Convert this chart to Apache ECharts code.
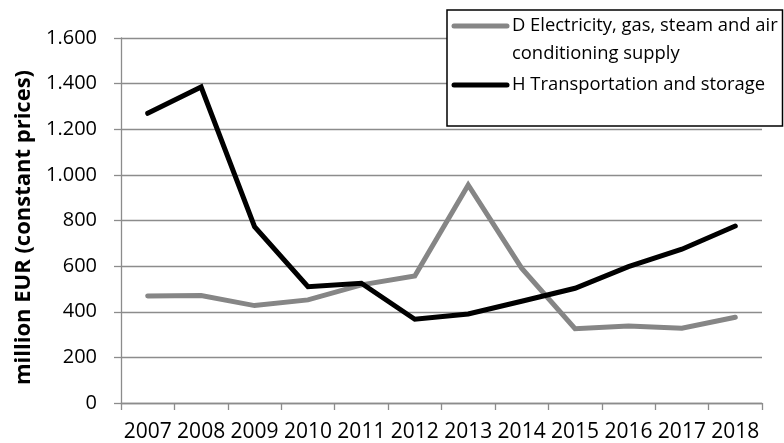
<!DOCTYPE html>
<html>
<head>
<meta charset="utf-8">
<script src="https://cdn.jsdelivr.net/npm/echarts@6/dist/echarts.min.js"></script>
<style>
  html, body { margin: 0; padding: 0; background: #fff; }
  #chart { width: 784px; height: 443px; }
</style>
</head>
<body>
<div id="chart"></div>
<script>
// Gross fixed capital formation by industry, million EUR (constant prices)
const years = ['2007', '2008', '2009', '2010', '2011', '2012', '2013', '2014', '2015', '2016', '2017', '2018'];
const nameD = 'D Electricity, gas, steam and air conditioning supply';
const nameH = 'H Transportation and storage';
const valuesD = [469, 471, 427, 452, 518, 557, 956, 591, 326, 337, 328, 376];
const valuesH = [1270, 1385, 773, 510, 525, 367, 390, 446, 503, 598, 674, 776];
const yTicks = { min: 0, max: 1600, step: 200 };

const colorD = '#868686';
const colorH = '#000000';
const gridColor = '#8c8c8c';
const fontFamily = '"Open Sans", "Liberation Sans", sans-serif';

function thousandDots(v) {
  return String(v).replace(/\B(?=(\d{3})+(?!\d))/g, '.');
}

const chart = echarts.init(document.getElementById('chart'), null, { renderer: 'canvas' });

chart.setOption({
  animation: false,
  backgroundColor: '#ffffff',
  grid: { left: 121, right: 22, top: 38, bottom: 40, containLabel: false },
  xAxis: {
    type: 'category',
    data: years,
    boundaryGap: true,
    axisLine: { lineStyle: { color: gridColor, width: 1.3 } },
    axisTick: { show: true, length: 7, lineStyle: { color: gridColor, width: 1.3 } },
    axisLabel: { color: '#000', fontFamily: fontFamily, fontSize: 21, margin: 19, interval: 0 }
  },
  yAxis: {
    type: 'value',
    min: yTicks.min,
    max: yTicks.max,
    interval: yTicks.step,
    name: 'million EUR (constant prices)',
    nameLocation: 'middle',
    nameGap: 86,
    nameTextStyle: {
      color: '#000', fontFamily: fontFamily, fontSize: 22, fontWeight: 'bold',
      padding: [0, 14, 0, 0]
    },
    axisLine: { show: true, lineStyle: { color: gridColor, width: 1.3 } },
    axisTick: { show: true, length: 7, inside: false, lineStyle: { color: gridColor, width: 1.3 } },
    splitLine: { show: true, lineStyle: { color: gridColor, width: 1.3 } },
    axisLabel: {
      color: '#000', fontFamily: fontFamily, fontSize: 20, margin: 24,
      formatter: v => thousandDots(v)
    }
  },
  series: [
    {
      name: nameD, type: 'line', data: valuesD, symbol: 'none',
      lineStyle: { color: colorD, width: 5, cap: 'round', join: 'miter' },
      itemStyle: { color: colorD }, z: 2
    },
    {
      name: nameH, type: 'line', data: valuesH, symbol: 'none',
      lineStyle: { color: colorH, width: 5, cap: 'round', join: 'miter' },
      itemStyle: { color: colorH }, z: 3
    }
  ],
  graphic: [
    {
      type: 'group', x: 447, y: 10, z: 100,
      children: [
        { type: 'rect', z: 100, shape: { x: 0, y: 0, width: 335.5, height: 116 },
          style: { fill: '#fff', stroke: '#000', lineWidth: 1.5 } },
        { type: 'line', z: 101, shape: { x1: 7, y1: 16, x2: 60, y2: 16 },
          style: { stroke: colorD, lineWidth: 5, lineCap: 'round' } },
        { type: 'text', z: 101, x: 65, y: 2,
          style: { text: 'D Electricity, gas, steam and air\nconditioning supply', fill: '#000',
                   font: '18.4px ' + fontFamily, lineHeight: 28, verticalAlign: 'top' } },
        { type: 'line', z: 101, shape: { x1: 7, y1: 75, x2: 60, y2: 75 },
          style: { stroke: colorH, lineWidth: 5, lineCap: 'round' } },
        { type: 'text', z: 101, x: 65, y: 75,
          style: { text: nameH, fill: '#000', font: '18.4px ' + fontFamily, verticalAlign: 'middle' } }
      ]
    }
  ]
});
</script>
</body>
</html>
